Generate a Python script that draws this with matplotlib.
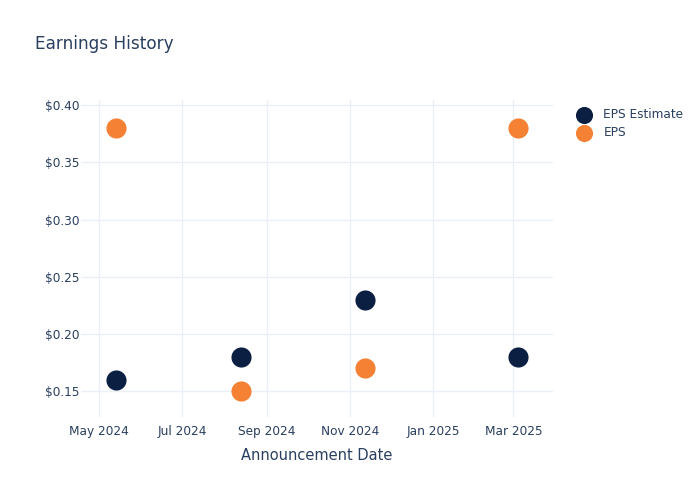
import datetime as dt
import matplotlib
matplotlib.use("Agg")
import matplotlib.pyplot as plt
import matplotlib.dates as mdates
from matplotlib.ticker import FuncFormatter

# data
dates = [dt.date(2024, 5, 14), dt.date(2024, 8, 13), dt.date(2024, 11, 12), dt.date(2025, 3, 4)]
eps_estimate = [0.16, 0.18, 0.23, 0.18]
eps_actual = [0.38, 0.15, 0.17, 0.38]

navy = "#0b1f42"
orange = "#f58134"
txt = "#2a3f5f"
grid = "#ebf0f8"

fig = plt.figure(figsize=(7, 5), dpi=100)
ax = fig.add_axes([81 / 700, 83 / 500, 472 / 700, 317 / 500])

ax.scatter(dates, eps_estimate, s=210, color=navy, label="EPS Estimate", zorder=3, linewidths=0)
ax.scatter(dates, eps_actual, s=210, color=orange, label="EPS", zorder=3, linewidths=0)

ax.set_xlim(dt.date(2024, 4, 18), dt.date(2025, 3, 30))
ax.set_ylim(0.1276, 0.4044)
ax.set_yticks([0.15, 0.20, 0.25, 0.30, 0.35, 0.40])
ax.yaxis.set_major_formatter(FuncFormatter(lambda v, p: f"${v:.2f}"))
ax.xaxis.set_major_locator(mdates.MonthLocator(bymonth=[1, 3, 5, 7, 9, 11]))
ax.xaxis.set_major_formatter(mdates.DateFormatter("%b %Y"))

ax.grid(True, color=grid, linewidth=1)
ax.set_axisbelow(True)
for s in ax.spines.values():
    s.set_visible(False)
ax.tick_params(length=0, labelsize=8.7, colors=txt, pad=6)
ax.tick_params(axis="y", pad=1)

ax.set_xlabel("Announcement Date", fontsize=10.5, color=txt, labelpad=7)
fig.text(35 / 700, 1 - 44 / 500, "Earnings History", fontsize=12.2, color=txt, va="center")

leg = ax.legend(loc="upper left", bbox_to_anchor=(1.017, 1.01), frameon=False,
                fontsize=8.7, labelcolor=txt, handletextpad=0.6, labelspacing=0.45,
                markerscale=0.85)

fig.savefig("out.png", dpi=100)
